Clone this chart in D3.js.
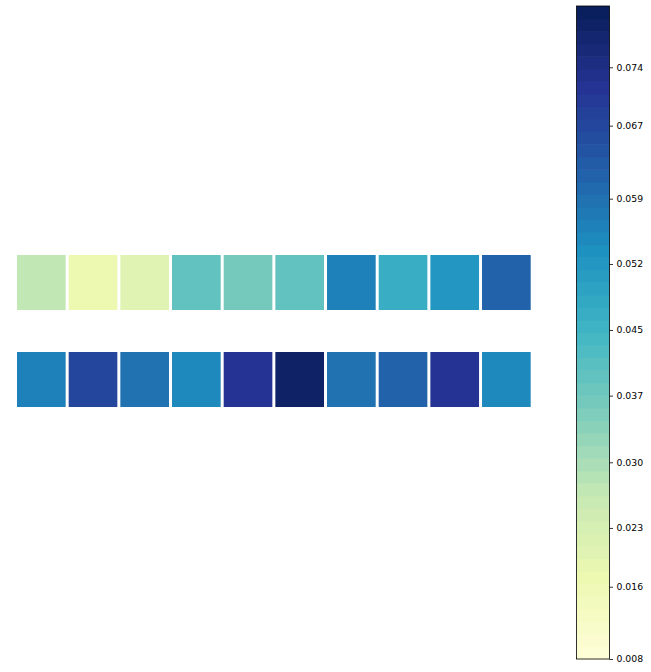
<!DOCTYPE html>
<html>
<head>
<meta charset="utf-8">
<script src="https://cdn.jsdelivr.net/npm/d3@7"></script>
<style>
  html, body { margin: 0; padding: 0; background: #fff; }
  svg { display: block; font-family: "DejaVu Sans", sans-serif; }
</style>
</head>
<body>
<svg id="chart" width="651" height="672"></svg>
<script>
// ---- data ----
const columns = [0, 1, 2, 3, 4, 5, 6, 7, 8, 9];
const rows = ["row1", "row2"];
const row1Values = [0.0268, 0.0178, 0.0207, 0.0398, 0.0374, 0.0397, 0.0570, 0.0473, 0.0520, 0.0627];
const row2Values = [0.0570, 0.0676, 0.0598, 0.0548, 0.0723, 0.0789, 0.0598, 0.0623, 0.0718, 0.0548];
const colorMin = 0.0083;
const colorMax = 0.0813;
// tick positions (in colour-scale units) and the labels shown there
const tickValues = [0.0083, 0.01638, 0.02295, 0.03029, 0.03774, 0.04508, 0.05246, 0.05976, 0.06792, 0.07445];
const tickLabels = ["0.008", "0.016", "0.023", "0.030", "0.037", "0.045", "0.052", "0.059", "0.067", "0.074"];
const nColorLevels = 52;

const cells = [];
[row1Values, row2Values].forEach((vals, r) => {
  vals.forEach((v, c) => cells.push({ row: rows[r], col: columns[c], value: v }));
});

// ---- colormap (YlGnBu, linear segments) ----
const ylgnbu = ["#ffffd9", "#edf8b1", "#c7e9b4", "#7fcdbb", "#41b6c4", "#1d91c0", "#225ea8", "#253494", "#081d58"];
const cmapLinear = d3.scaleLinear()
  .domain(d3.range(ylgnbu.length).map(i => i / (ylgnbu.length - 1)))
  .range(ylgnbu)
  .interpolate(d3.interpolateRgb);
const norm = d3.scaleLinear().domain([colorMin, colorMax]).range([0, 1]).clamp(true);
function color(v) {
  let t = norm(v);
  let k = Math.min(nColorLevels - 1, Math.floor(t * nColorLevels));
  return cmapLinear((k + 0.5) / nColorLevels);
}

const svg = d3.select("#chart");

// ---- heatmap ----
const gap = 3;
const x = d3.scaleBand().domain(columns).range([15.5, 532.2]).paddingInner(0).paddingOuter(0);
const y = d3.scaleBand().domain(rows).range([253.5, 253.5 + 97 + 58]).paddingInner(39 / 97).paddingOuter(0);

svg.append("g").selectAll("rect")
  .data(cells)
  .join("rect")
  .attr("x", d => x(d.col) + gap / 2)
  .attr("y", d => y(d.row) + gap / 2)
  .attr("width", x.bandwidth() - gap)
  .attr("height", y.bandwidth() - gap)
  .attr("fill", d => color(d.value));

// ---- colorbar ----
const cbX = 576.5, cbW = 33, cbTop = 6, cbBottom = 659;
const cbScale = d3.scaleLinear().domain([colorMin, colorMax]).range([cbBottom, cbTop]);
const levels = d3.range(nColorLevels).map(k => ({
  v0: colorMin + (colorMax - colorMin) * k / nColorLevels,
  v1: colorMin + (colorMax - colorMin) * (k + 1) / nColorLevels
}));
const cb = svg.append("g");
cb.selectAll("rect")
  .data(levels)
  .join("rect")
  .attr("x", cbX)
  .attr("width", cbW)
  .attr("y", d => cbScale(d.v1))
  .attr("height", d => cbScale(d.v0) - cbScale(d.v1) + 0.6)
  .attr("fill", d => cmapLinear(((d.v0 + d.v1) / 2 - colorMin) / (colorMax - colorMin)));
cb.append("rect")
  .attr("x", cbX).attr("y", cbTop)
  .attr("width", cbW).attr("height", cbBottom - cbTop)
  .attr("fill", "none").attr("stroke", "#000").attr("stroke-width", 0.8);

const axis = d3.axisRight(cbScale)
  .tickValues(tickValues)
  .tickSize(3.5)
  .tickPadding(3.5)
  .tickFormat((d, i) => tickLabels[i]);
const ag = svg.append("g")
  .attr("transform", `translate(${cbX + cbW},0)`)
  .call(axis);
ag.select(".domain").remove();
ag.selectAll(".tick line").attr("stroke", "#000").attr("stroke-width", 0.8);
ag.selectAll(".tick text")
  .attr("fill", "#000")
  .style("font-family", "'DejaVu Sans', sans-serif")
  .style("font-size", "9.3px");
</script>
</body>
</html>
